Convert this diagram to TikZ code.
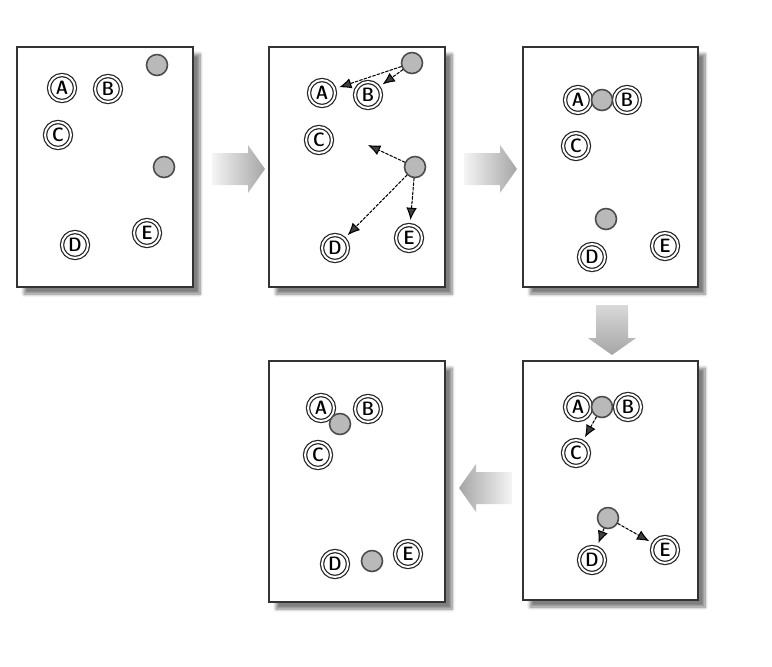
\documentclass[tikz,border=0pt]{standalone}
\usetikzlibrary{arrows.meta,shadows.blur}

\begin{document}
\begin{tikzpicture}[
    x=0.02cm, y=-0.02cm,
    line cap=round,
    every node/.style={font=\sffamily\fontseries{sbc}\fontsize{11}{11}\selectfont},
    panel/.style={draw=black!80, line width=1pt, fill=white,
        blur shadow={shadow xshift=4pt, shadow yshift=-4pt,
                     shadow blur steps=8, shadow opacity=50}},
    item/.style={circle, draw=black!85, line width=0.7pt,
        double=white, double distance=1.1pt,
        minimum size=0.52cm, inner sep=0pt},
    centre/.style={circle, draw=black!70, fill=gray!55, line width=0.9pt,
        minimum size=0.42cm, inner sep=0pt},
    move/.style={dash pattern=on 1.6pt off 1pt, line width=0.6pt,
        -{Latex[length=7pt,width=6pt]}, shorten >=2.5pt},
    bigarrow/.style={draw=none},
]

\useasboundingbox (0,0) rectangle (772,667);

% ---------- panels ----------
\draw[panel] (17,47) rectangle (193,287);
\draw[panel] (269,47) rectangle (445,287);
\draw[panel] (523,47) rectangle (698,287);
\draw[panel] (523,361) rectangle (698,600);
\draw[panel] (269,361) rectangle (445,602);

% ---------- big shaded arrows between the panels ----------
\shade[bigarrow, left color=gray!8, right color=gray!70]
    (212,153) -- ++(36,0) -- ++(0,-8) -- ++(17,24) -- ++(-17,24)
    -- ++(0,-8) -- ++(-36,0) -- cycle;
\shade[bigarrow, left color=gray!8, right color=gray!70]
    (464,153) -- ++(36,0) -- ++(0,-8) -- ++(17,24) -- ++(-17,24)
    -- ++(0,-8) -- ++(-36,0) -- cycle;
\shade[bigarrow, top color=gray!30, bottom color=gray!70]
    (596,305) -- ++(0,33) -- ++(-8,0) -- ++(24,17) -- ++(24,-17)
    -- ++(-8,0) -- ++(0,-33) -- cycle;
\shade[bigarrow, left color=gray!70, right color=gray!8]
    (512,472) -- ++(-36,0) -- ++(0,-8) -- ++(-17,24) -- ++(17,24)
    -- ++(0,-8) -- ++(36,0) -- cycle;

% ---------- panel 1: points and two random centres ----------
\node[item] (a1) at (62,88) {A};
\node[item] (b1) at (108,89) {B};
\node[item] (c1) at (58,135) {C};
\node[item] (d1) at (75,245) {D};
\node[item] (e1) at (147,233) {E};
\node[centre] (m1) at (157,65) {};
\node[centre] (n1) at (164,167) {};

% ---------- panel 2: assignment to the nearest centre ----------
\node[item] (a2) at (322,93) {A};
\node[item] (b2) at (368,95) {B};
\node[item] (c2) at (319,140) {C};
\node[item] (d2) at (335,248) {D};
\node[item] (e2) at (409,238) {E};
\node[centre] (m2) at (412,63) {};
\node[centre] (n2) at (415,167) {};
\coordinate (v2) at (368,145);
\draw[move] (m2) -- (a2);
\draw[move] (m2) -- (b2);
\draw[move, shorten >=0pt] (n2) -- (v2);
\draw[move] (n2) -- (d2);
\draw[move] (n2) -- (e2);

% ---------- panel 3: centres moved ----------
\node[item] (a3) at (578,100) {A};
\node[item] (b3) at (627,100) {B};
\node[item] (c3) at (576,146) {C};
\node[item] (d3) at (592,257) {D};
\node[item] (e3) at (665,246) {E};
\node[centre] (m3) at (602,100) {};
\node[centre] (n3) at (606,219) {};

% ---------- panel 4: new assignment ----------
\node[item] (a4) at (578,407) {A};
\node[item] (b4) at (628,407) {B};
\node[item] (c4) at (576,453) {C};
\node[item] (d4) at (592,560) {D};
\node[item] (e4) at (665,550) {E};
\node[centre] (m4) at (602,407) {};
\node[centre] (n4) at (608,518) {};
\draw[move] (m4) -- (c4);
\draw[move] (n4) -- (d4);
\draw[move] (n4) -- (e4);

% ---------- panel 5: final centres ----------
\node[item] (a5) at (321,408) {A};
\node[item] (b5) at (368,409) {B};
\node[item] (c5) at (318,455) {C};
\node[item] (d5) at (335,564) {D};
\node[item] (e5) at (408,554) {E};
\node[centre] (m5) at (340,424) {};
\node[centre] (n5) at (372,561) {};

\end{tikzpicture}
\end{document}
